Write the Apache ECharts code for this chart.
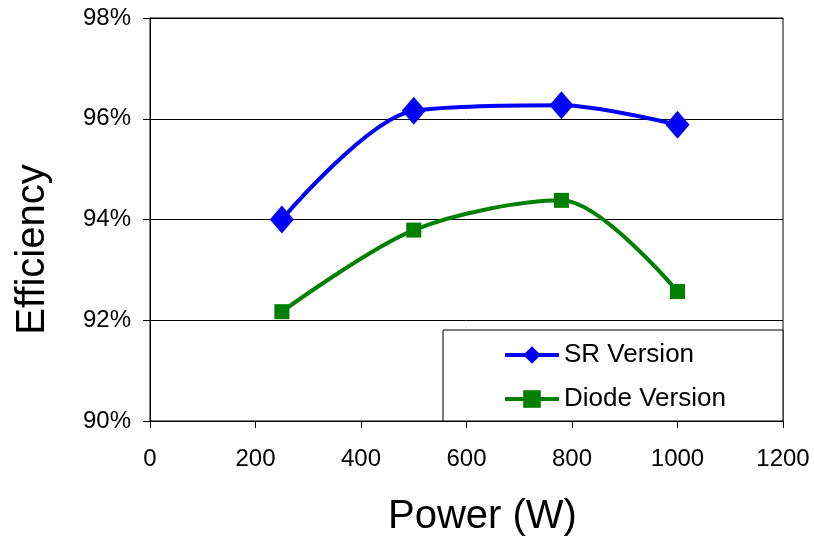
<!DOCTYPE html>
<html>
<head>
<meta charset="utf-8">
<script src="https://cdn.jsdelivr.net/npm/echarts@6/dist/echarts.min.js"></script>
<style>
  html, body { margin: 0; padding: 0; background: #fff; }
  #chart { width: 814px; height: 548px; }
</style>
</head>
<body>
<div id="chart"></div>
<script>
// Output power (W) at each measured load point
const powerW = [250, 500, 780, 1000];
// Efficiency (%) of the synchronous-rectifier build
const srEfficiency = [94.0, 96.16, 96.27, 95.88];
// Efficiency (%) of the diode-rectifier build
const diodeEfficiency = [92.17, 93.79, 94.38, 92.57];

const xTicks = { min: 0, max: 1200, step: 200 };
const yTicks = { min: 90, max: 98, step: 2 };

const FONT = '"Liberation Sans", Arial, sans-serif';

function pairs(xs, ys) {
  return xs.map((x, i) => [x, ys[i]]);
}

const chart = echarts.init(document.getElementById('chart'), null, { renderer: 'canvas' });

chart.setOption({
  backgroundColor: '#ffffff',
  animation: false,
  textStyle: { fontFamily: FONT },
  grid: {
    left: 150, right: 31, top: 18, bottom: 127,
    show: true, borderColor: '#000', borderWidth: 1, backgroundColor: 'transparent'
  },
  graphic: [{
    type: 'rect',
    z: 3,
    shape: { x: 443, y: 330, width: 340, height: 91 },
    style: { fill: '#fff', stroke: '#000', lineWidth: 1 }
  }],
  legend: {
    z: 6,
    orient: 'vertical',
    left: 503, top: 342,
    itemWidth: 54, itemHeight: 22,
    itemGap: 18,
    padding: 0,
    lineStyle: { width: 4 },
    textStyle: { fontFamily: FONT, fontSize: 26, color: '#000', lineHeight: 26 },
    data: ['SR Version', 'Diode Version']
  },
  xAxis: {
    type: 'value',
    min: xTicks.min, max: xTicks.max, interval: xTicks.step,
    name: 'Power (W)',
    nameLocation: 'middle',
    nameGap: 76,
    nameTextStyle: { fontFamily: FONT, fontSize: 40, color: '#000', padding: [0, 0, 0, 32] },
    axisLine: { show: true, lineStyle: { color: '#000', width: 1 } },
    axisTick: { show: true, inside: false, length: 7, lineStyle: { color: '#000' } },
    axisLabel: { fontFamily: FONT, fontSize: 24, color: '#000', margin: 26, formatter: v => String(v) },
    splitLine: { show: false }
  },
  yAxis: {
    type: 'value',
    min: yTicks.min, max: yTicks.max, interval: yTicks.step,
    name: 'Efficiency',
    nameLocation: 'middle',
    nameGap: 97,
    nameRotate: 90,
    nameTextStyle: { fontFamily: FONT, fontSize: 40, color: '#000', padding: [0, 60, 0, 0] },
    axisLine: { show: true, lineStyle: { color: '#000', width: 1 } },
    axisTick: { show: true, inside: false, length: 7, lineStyle: { color: '#000' } },
    axisLabel: { fontFamily: FONT, fontSize: 24, color: '#000', margin: 19, formatter: '{value}%' },
    splitLine: { show: true, lineStyle: { color: '#000', width: 1 } }
  },
  series: [
    {
      name: 'SR Version',
      type: 'line',
      smooth: 0.3,
      data: pairs(powerW, srEfficiency),
      symbol: 'diamond',
      symbolSize: [24, 28],
      lineStyle: { color: '#0000ff', width: 4 },
      itemStyle: { color: '#0000ff' },
      z: 4
    },
    {
      name: 'Diode Version',
      type: 'line',
      smooth: 0.3,
      data: pairs(powerW, diodeEfficiency),
      symbol: 'rect',
      symbolSize: [15, 15],
      lineStyle: { color: '#008000', width: 4 },
      itemStyle: { color: '#008000' },
      z: 4
    }
  ]
});
</script>
</body>
</html>
